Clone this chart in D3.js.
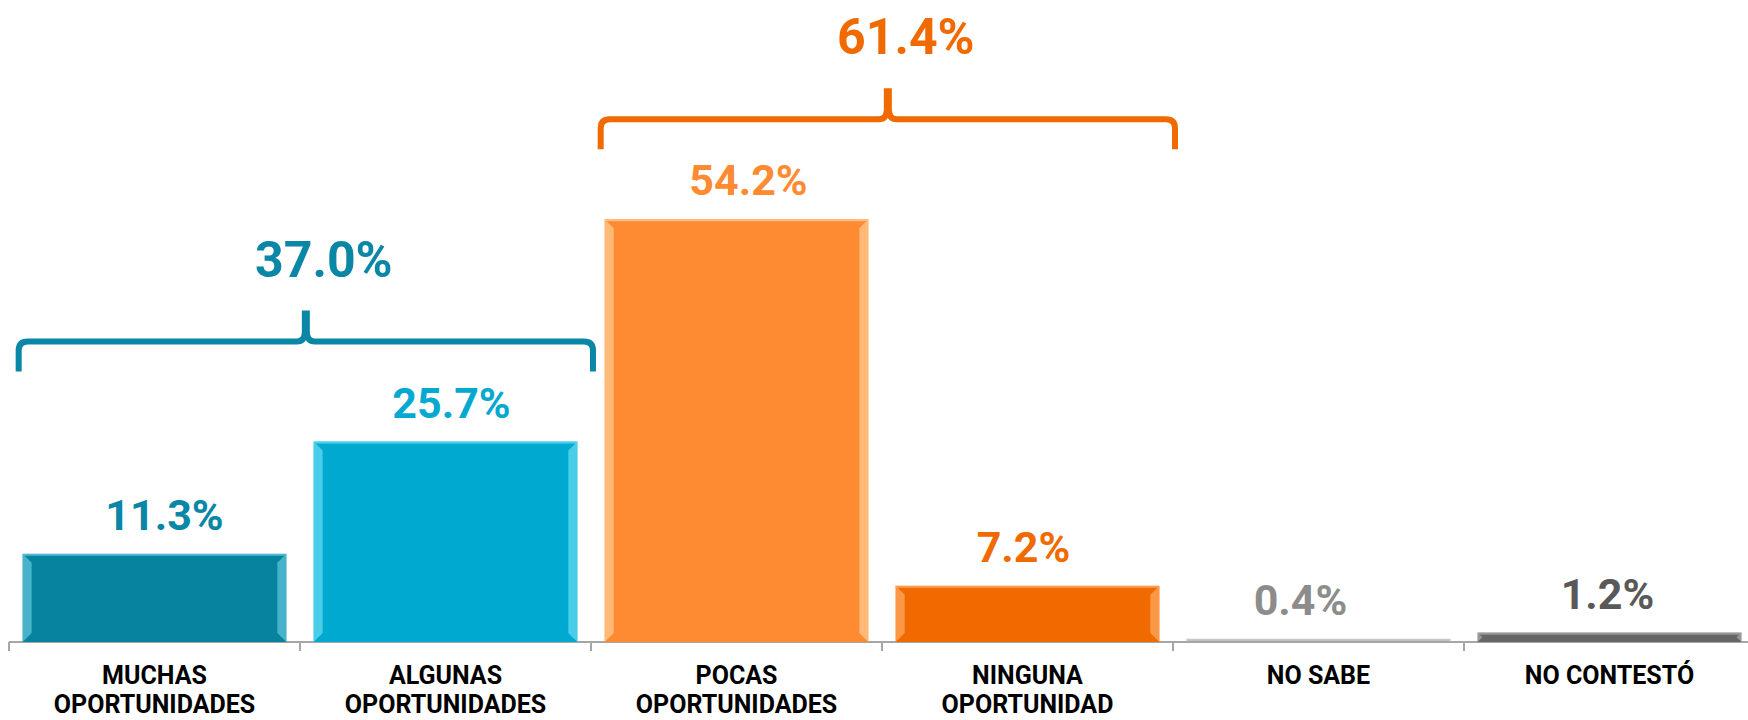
<!DOCTYPE html>
<html>
<head>
<meta charset="utf-8">
<script src="https://cdn.jsdelivr.net/npm/d3@7"></script>
<style>
  html, body { margin: 0; padding: 0; background: #ffffff; }
  svg { display: block; }
</style>
</head>
<body>
<div id="chart"></div>
<script>
// ---- Data ----
const categoryLines = [
  ["MUCHAS", "OPORTUNIDADES"],
  ["ALGUNAS", "OPORTUNIDADES"],
  ["POCAS", "OPORTUNIDADES"],
  ["NINGUNA", "OPORTUNIDAD"],
  ["NO SABE"],
  ["NO CONTESTÓ"]
];
const categories = categoryLines.map(l => l.join(" "));
const values = [11.3, 25.7, 54.2, 7.2, 0.4, 1.2];
const valueLabels = ["11.3%", "25.7%", "54.2%", "7.2%", "0.4%", "1.2%"];
const groupMembers = [[0, 1], [2, 3]];
const groupValues = [37.0, 61.4];
const groupLabels = ["37.0%", "61.4%"];

// ---- Styles ----
const barColors = ["#07829f", "#00a9cf", "#fe8a31", "#f06a00", "#a3a3a3", "#666666"];
const bevelColors = ["#5cc3da", "#62d9f2", "#ffc98f", "#ffa860", "#d0d0d0", "#a8a8a8"];
const labelColors = ["#0a86a6", "#03a9d0", "#fe8a31", "#f06a00", "#8c8c8c", "#595959"];
const groupColors = ["#0a86a6", "#f06a00"];
const labelNudge = [10, 6, 12, -4, -18, -2];

const W = 1748, H = 720;
const axisY = 642;
const svg = d3.select("#chart").append("svg").attr("width", W).attr("height", H);

const x = d3.scaleBand().domain(categories).range([9, 9 + 291 * 6])
  .paddingInner(0.094).paddingOuter(0.047);
const y = d3.scaleLinear().domain([0, 80]).range([axisY, axisY - 80 * 7.8]);

// ---- Axis ----
const axisG = svg.append("g").attr("transform", `translate(0,${axisY})`);
axisG.call(d3.axisBottom(x).tickSize(0).tickFormat(""));
axisG.select(".domain").remove();
axisG.append("line").attr("x1", x.range()[0]).attr("x2", W).attr("y1", 0).attr("y2", 0)
  .attr("stroke", "#a6a6a6").attr("stroke-width", 2);
const tickXs = d3.range(categories.length + 1).map(i => x.range()[0] + i * x.step());
axisG.selectAll("line.tk").data(tickXs).join("line").attr("class", "tk")
  .attr("x1", d => d).attr("x2", d => d).attr("y1", 0).attr("y2", 9)
  .attr("stroke", "#a6a6a6").attr("stroke-width", 2);

// ---- Category labels ----
const catG = svg.append("g").attr("font-family", "Roboto, sans-serif").attr("font-weight", 700)
  .attr("font-size", 25).attr("fill", "#000").attr("text-anchor", "middle");
categories.forEach((c, i) => {
  const t = catG.append("text").attr("x", x(c) + x.bandwidth() / 2).attr("y", 684);
  categoryLines[i].forEach((ln, j) => {
    t.append("tspan").attr("x", x(c) + x.bandwidth() / 2).attr("dy", j === 0 ? 0 : 29).text(ln);
  });
});

// ---- Bars ----
const bars = svg.append("g");
categories.forEach((c, i) => {
  const x0 = x(c), bw = x.bandwidth();
  const y0 = y(values[i]), bh = axisY - y0;
  const g = bars.append("g");
  g.append("rect").attr("x", x0).attr("y", y0).attr("width", bw).attr("height", bh)
    .attr("fill", barColors[i]);
  const b = Math.min(9, bh / 2);
  g.append("path").attr("d", `M${x0},${y0} L${x0 + b},${y0 + b} L${x0 + b},${axisY - b} L${x0},${axisY} Z`)
    .attr("fill", bevelColors[i]).attr("opacity", 0.75);
  g.append("path").attr("d", `M${x0 + bw},${y0} L${x0 + bw - b},${y0 + b} L${x0 + bw - b},${axisY - b} L${x0 + bw},${axisY} Z`)
    .attr("fill", bevelColors[i]).attr("opacity", 0.75);
  g.append("rect").attr("x", x0).attr("y", y0).attr("width", bw).attr("height", Math.min(2, bh))
    .attr("fill", bevelColors[i]).attr("opacity", 0.8);
});

// ---- Value labels ----
svg.append("g").selectAll("text").data(values).join("text")
  .attr("x", (d, i) => x(categories[i]) + x.bandwidth() / 2 + labelNudge[i])
  .attr("y", d => y(d) - 24)
  .attr("text-anchor", "middle")
  .attr("font-family", "Roboto, sans-serif").attr("font-weight", 700).attr("font-size", 43)
  .attr("fill", (d, i) => labelColors[i])
  .text((d, i) => valueLabels[i]);

// ---- Group brackets ----
groupMembers.forEach((m, gi) => {
  const first = categories[m[0]], last = categories[m[m.length - 1]];
  const x0 = x(first) - 4;
  const x1 = x(last) + x.bandwidth() + x.step() * x.paddingInner() / 2 + 2;
  const top = d3.min(m.map(k => y(values[k])));
  const yh = top - 100;
  const yb = yh + 30;
  const mid = (x0 + x1) / 2;
  const r = 9;
  const p = `M${x0},${yb} L${x0},${yh + r} Q${x0},${yh} ${x0 + r},${yh}
    L${mid - 9},${yh} Q${mid - 1},${yh} ${mid - 1},${yh - 10} L${mid - 1},${yh - 31}
    M${mid + 1},${yh - 31} L${mid + 1},${yh - 10} Q${mid + 1},${yh} ${mid + 9},${yh}
    L${x1 - r},${yh} Q${x1},${yh} ${x1},${yh + r} L${x1},${yb}`;
  svg.append("path").attr("d", p).attr("fill", "none").attr("stroke", groupColors[gi])
    .attr("stroke-width", 6).attr("stroke-linejoin", "round");
  svg.append("text").attr("x", mid + 18).attr("y", yh - 65)
    .attr("text-anchor", "middle").attr("font-family", "Roboto, sans-serif")
    .attr("font-weight", 700).attr("font-size", 50).attr("fill", groupColors[gi])
    .text(groupLabels[gi]);
});
</script>
</body>
</html>
